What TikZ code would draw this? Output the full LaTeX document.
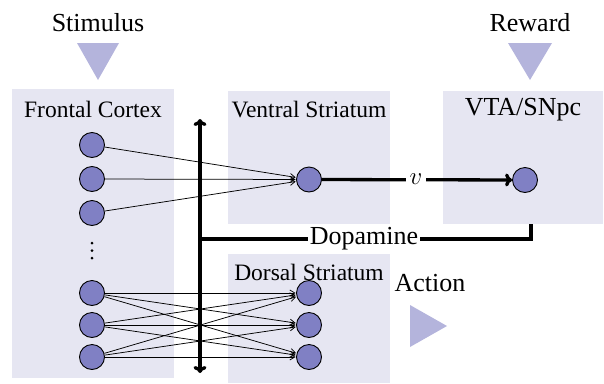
\documentclass[tikz,border=0pt]{standalone}
\usepackage{fontspec}
\setmainfont{Liberation Serif}
\usetikzlibrary{arrows.meta}
\definecolor{boxc}{RGB}{230,230,242}
\definecolor{neuc}{RGB}{128,128,196}
\definecolor{tric}{RGB}{180,180,220}
\tikzset{
  region/.style={fill=boxc, draw=none},
  neuron/.style={circle, draw=black, fill=neuc, line width=0.9pt, minimum size=25pt, inner sep=0pt},
  syn/.style={line width=0.75pt, -{Straight Barb[length=5pt,width=6pt]}, shorten >=0.5pt},
  thick line/.style={line width=3.3pt},
  bigtip/.tip={To[length=7pt,width=13pt]},
  biglabel/.style={font=\fontsize{26}{28}\selectfont, inner sep=1pt},
  boxlabel/.style={font=\fontsize{23.5}{26}\selectfont, inner sep=0pt},
  tri/.style={fill=tric, draw=none}
}
\begin{document}
\begin{tikzpicture}[x=1pt,y=-1pt]
\useasboundingbox (0,0) rectangle (604,383);
% regions
\fill[region] (12,89) rectangle (174,378);
\fill[region] (228,91) rectangle (390,224);
\fill[region] (228,254) rectangle (390,383);
\fill[region] (443,91) rectangle (603,224);
% triangles
\fill[tri] (77,43) -- (119,43) -- (98,80) -- cycle;
\fill[tri] (508,43) -- (552,43) -- (530,80) -- cycle;
\fill[tri] (410,305) -- (410,347) -- (447,326) -- cycle;
% labels
\node[biglabel] (stim) at (98,23) {Stimulus};
\node[biglabel] (rew) at (530,23) {Reward};
\node[biglabel] (act) at (430,283) {Action};
\node[boxlabel] (fcl) at (93,109) {Frontal Cortex};
\node[boxlabel] (vsl) at (309,110) {Ventral Striatum};
\node[boxlabel] (dsl) at (309,272) {Dorsal Striatum};
\node[biglabel] (vtal) at (523,110) {VTA/SNpc};
% neurons
\node[neuron] (f1) at (92,145) {};
\node[neuron] (f2) at (92,179) {};
\node[neuron] (f3) at (92,213) {};
\node[neuron] (f4) at (92,293) {};
\node[neuron] (f5) at (92,325) {};
\node[neuron] (f6) at (92,357) {};
\node[neuron] (vs) at (309,179.5) {};
\node[neuron] (vta) at (525,180) {};
\node[neuron] (d1) at (309,293) {};
\node[neuron] (d2) at (309,325) {};
\node[neuron] (d3) at (309,357) {};
% dots
\foreach \yy in {243,250.5,258} \fill (92,\yy) circle (1.5);
% synapses
\foreach \s in {f1,f2,f3} \draw[syn] (\s) -- (vs);
\foreach \s in {f4,f5,f6} \foreach \t in {d1,d2,d3} \draw[syn] (\s) -- (\t);
% vertical arrow
\coordinate (vtop) at (200,119);
\coordinate (vbot) at (200,373);
\draw[thick line, bigtip-bigtip] (vtop) -- (vbot);
% value
\draw[thick line, -bigtip] (vs) -- (vta);
\node[biglabel, fill=white, inner sep=1pt, inner xsep=4pt] (vlab) at (416,179) {$v$};
% dopamine
\coordinate (dtop) at (531,224);
\coordinate (dcorner) at (531,239);
\coordinate (dleft) at (200,239);
\draw[thick line] (dtop) -- (dcorner) -- (dleft);
\node[biglabel, fill=white, inner sep=0pt, inner xsep=2pt] (dop) at (364,239) {Dopamine};
\end{tikzpicture}
\end{document}
